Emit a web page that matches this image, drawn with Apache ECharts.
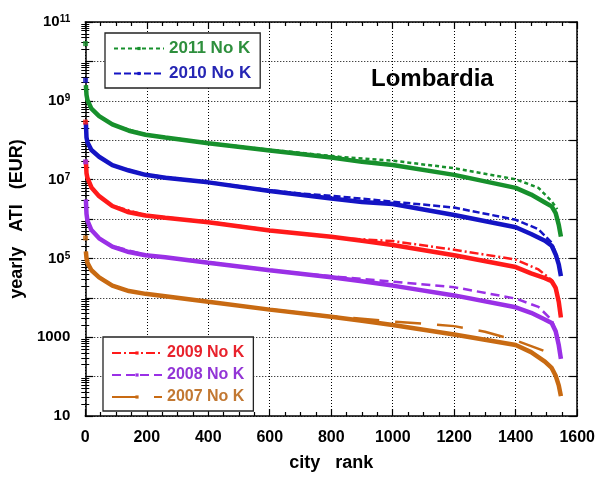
<!DOCTYPE html>
<html>
<head>
<meta charset="utf-8">
<script src="https://cdn.jsdelivr.net/npm/echarts@6/dist/echarts.min.js"></script>
<style>
html,body{margin:0;padding:0;background:#fff;}
#chart{width:598px;height:477px;}
</style>
</head>
<body>
<div id="chart"></div>
<script>
// ---- data ----
var title = 'Lombardia';
var xTicks = [0, 200, 400, 600, 800, 1000, 1200, 1400, 1600];

// ranks of the sampled points on the full (solid) curves
var rankFull = [2, 4, 7, 20, 45, 88, 142, 196, 260, 400, 600, 800, 900, 1000, 1200, 1400, 1450, 1495, 1517, 1530, 1540, 1547];
var full2011 = [2.51e9, 1.41e9, 1.05e9, 6.31e8, 4.07e8, 2.51e8, 1.74e8, 1.38e8, 1.17e8, 8.32e7, 5.50e7, 3.63e7, 2.82e7, 2.34e7, 1.32e7, 6.17e6, 4.17e6, 2.63e6, 2.09e6, 1.41e6, 7.08e5, 3.55e5];
var full2010 = [2.75e8, 1.17e8, 8.91e7, 5.62e7, 3.80e7, 2.34e7, 1.70e7, 1.32e7, 1.12e7, 8.51e6, 5.13e6, 3.31e6, 2.69e6, 2.40e6, 1.26e6, 6.17e5, 4.17e5, 2.82e5, 2.09e5, 1.26e5, 7.08e4, 3.55e4];
var full2009 = [3.16e7, 1.45e7, 1.10e7, 6.31e6, 3.80e6, 2.14e6, 1.48e6, 1.23e6, 1.07e6, 8.32e5, 5.13e5, 3.55e5, 2.82e5, 2.19e5, 1.20e5, 6.03e4, 4.17e4, 3.16e4, 2.63e4, 1.78e4, 7.94e3, 3.16e3];
var full2008 = [3.16e6, 1.35e6, 9.12e5, 5.25e5, 3.24e5, 2.00e5, 1.45e5, 1.20e5, 1.07e5, 7.76e4, 5.01e4, 3.31e4, 2.63e4, 2.04e4, 1.15e4, 5.75e3, 4.17e3, 2.82e3, 2.29e3, 1.41e3, 631, 282];
var full2007 = [1.51e5, 1.00e5, 7.76e4, 5.01e4, 3.31e4, 2.04e4, 1.48e4, 1.26e4, 1.10e4, 7.94e3, 5.01e3, 3.31e3, 2.63e3, 2.04e3, 1.17e3, 631, 417, 240, 166, 105, 60, 32];

// rank-1 (largest city) isolated points
var topRank = 1;
var top2011 = 2.82e10, top2010 = 3.31e9, top2009 = 2.88e8, top2008 = 2.82e7, top2007 = 3.31e5;

// "No K" curves
var rankNoK = [100, 200, 400, 600, 700, 827, 1000, 1200, 1400, 1474, 1517, 1535, 1545];
var noK2011 = [2.29e8, 1.38e8, 8.51e7, 5.75e7, 4.79e7, 3.80e7, 3.02e7, 1.95e7, 1.02e7, 6.17e6, 2.82e6, 1.78e6, null];
var noK2010 = [2.19e7, 1.32e7, 8.71e6, 5.37e6, 4.47e6, 3.72e6, 2.75e6, 1.95e6, 9.55e5, 5.50e5, 2.51e5, 1.12e5, null];
var noK2009 = [2.04e6, 1.23e6, 8.51e5, 5.25e5, 4.17e5, 3.31e5, 2.75e5, 1.66e5, 9.33e4, 5.25e4, 2.82e4, 1.26e4, 3.55e3];
var noK2008 = [1.95e5, 1.20e5, 7.94e4, 5.13e4, 4.17e4, 3.39e4, 2.57e4, 1.86e4, 9.55e3, 5.89e3, 2.75e3, 1.12e3, 398];
var rankNoK2007 = [600, 700, 790, 1000, 1200, 1300, 1400, 1490];
var noK2007 = [5.13e3, 4.17e3, 3.47e3, 2.51e3, 1.91e3, 1.38e3, 832, 457];

var years = ['2011', '2010', '2009', '2008', '2007'];
// ---- styles ----
var colors = {'2011': '#17902c', '2010': '#1414c4', '2009': '#ff1a1a', '2008': '#9a30e6', '2007': '#c86a12'};
var textColors = {'2011': '#2e8f3d', '2010': '#2626b4', '2009': '#e8222c', '2008': '#9235d6', '2007': '#c27832'};
var dashes = {'2011': [4, 3], '2010': [7, 3], '2009': [9, 3, 2, 3], '2008': [9, 5], '2007': [26, 16]};

var fullData = {'2011': full2011, '2010': full2010, '2009': full2009, '2008': full2008, '2007': full2007};
var topData = {'2011': top2011, '2010': top2010, '2009': top2009, '2008': top2008, '2007': top2007};
var noKData = {'2011': noK2011, '2010': noK2010, '2009': noK2009, '2008': noK2008, '2007': noK2007};
var noKRanks = {'2011': rankNoK, '2010': rankNoK, '2009': rankNoK, '2008': rankNoK, '2007': rankNoK2007};

function pairs(xs, ys) {
  var out = [];
  for (var i = 0; i < xs.length; i++) out.push([xs[i], ys[i]]);
  return out;
}

var series = [];
years.forEach(function (y) {
  series.push({
    name: y + ' No K', type: 'line', data: pairs(noKRanks[y], noKData[y]),
    symbol: 'rect', symbolSize: 3, showSymbol: false, connectNulls: false,
    lineStyle: {color: colors[y], width: 2.5, type: dashes[y]},
    itemStyle: {color: colors[y]}, z: 2, silent: true
  });
});
years.forEach(function (y) {
  series.push({
    name: y, type: 'line', data: pairs(rankFull, fullData[y]),
    symbol: 'none', lineStyle: {color: colors[y], width: 4.5},
    itemStyle: {color: colors[y]}, z: 3, silent: true
  });
  series.push({
    name: y + ' top', type: 'scatter', data: [[topRank, topData[y]]],
    symbol: 'rect', symbolSize: 5, itemStyle: {color: colors[y]}, z: 4, silent: true
  });
});

var minorVals = [];
for (var d = 1; d <= 10; d++) for (var k = 2; k <= 9; k++) minorVals.push(k * Math.pow(10, d));

var font = 'Liberation Sans, Arial, sans-serif';

function yLabel(v) {
  var e = Math.round(Math.log(v) / Math.LN10);
  if (e % 2 === 0) return '';
  if (e >= 5) return '{B|10}{s|' + e + '}';
  return '{b|' + Math.round(v) + '}';
}

var logBase = {type: 'log', logBase: 10, min: 10, max: 1e11, gridIndex: 0};
function yAx(extra) { return Object.assign({}, logBase, extra); }

function legendText(y, fs) { return {color: textColors[y], fontWeight: 'bold', fontSize: fs, fontFamily: font}; }

var option = {
  backgroundColor: '#fff',
  animation: false,
  title: {text: title, left: 371, top: 67, padding: 0,
    textStyle: {fontFamily: font, fontWeight: 'bold', fontSize: 24, color: '#000'}},
  grid: {left: 84, right: 19, top: 22, bottom: 52},
  legend: [
    {data: ['2011 No K', '2010 No K'], orient: 'vertical', left: 105, top: 33,
      padding: [7, 9, 6, 8], itemGap: 8, itemWidth: 50, itemHeight: 4,
      borderColor: '#222', borderWidth: 1.3, backgroundColor: '#fff',
      selectedMode: false,
      formatter: function (n) { return '{c' + n.slice(0, 4) + '|' + n + '}'; },
      textStyle: {fontFamily: font, fontWeight: 'bold', fontSize: 17,
        rich: {c2011: legendText('2011', 17), c2010: legendText('2010', 17)}}},
    {data: ['2009 No K', '2008 No K', '2007 No K'], orient: 'vertical', left: 103, top: 337,
      padding: [8, 9, 6, 8], itemGap: 6, itemWidth: 50, itemHeight: 4,
      borderColor: '#222', borderWidth: 1.3, backgroundColor: '#fff',
      selectedMode: false,
      formatter: function (n) { return '{c' + n.slice(0, 4) + '|' + n + '}'; },
      textStyle: {fontFamily: font, fontWeight: 'bold', fontSize: 16,
        rich: {c2009: legendText('2009', 16), c2008: legendText('2008', 16), c2007: legendText('2007', 16)}}}
  ],
  xAxis: [
    {type: 'value', min: 0, max: 1600, interval: 200, position: 'bottom',
      name: 'city   rank', nameLocation: 'middle', nameGap: 38,
      nameTextStyle: {fontFamily: font, fontWeight: 'bold', fontSize: 18, color: '#000'},
      axisLine: {onZero: false, lineStyle: {color: '#000', width: 1.5}},
      axisTick: {inside: true, length: 7, lineStyle: {color: '#000', width: 1.2}},
      minorTick: {show: true, splitNumber: 4, length: 4, lineStyle: {color: '#000', width: 1.2}},
      splitLine: {show: true, lineStyle: {color: '#000', width: 1, type: [1, 2]}},
      axisLabel: {fontFamily: font, fontWeight: 'bold', fontSize: 16, color: '#000', margin: 14,
        formatter: function (v) { return String(v); }}},
    {type: 'value', min: 0, max: 1600, interval: 200, position: 'top',
      axisLine: {onZero: false, lineStyle: {color: '#000', width: 1.5}},
      axisTick: {inside: true, length: 7, lineStyle: {color: '#000', width: 1.2}},
      minorTick: {show: true, splitNumber: 4, length: 4, lineStyle: {color: '#000', width: 1.2}},
      splitLine: {show: false}, axisLabel: {show: false}}
  ],
  yAxis: [
    yAx({position: 'left', splitNumber: 10, interval: 1,
      name: 'yearly   ATI   (EUR)', nameLocation: 'middle', nameGap: 47,
      nameTextStyle: {fontFamily: font, fontWeight: 'bold', fontSize: 18, color: '#000'},
      axisLine: {onZero: false, lineStyle: {color: '#000', width: 1.5}},
      axisTick: {inside: true, length: 8, lineStyle: {color: '#000', width: 1.2}},
      splitLine: {show: true, lineStyle: {color: '#000', width: 1, type: [1, 2]}},
      axisLabel: {formatter: yLabel, margin: 15, color: '#000',
        rich: {b: {fontFamily: font, fontWeight: 'bold', fontSize: 15, color: '#000'},
               B: {fontFamily: font, fontWeight: 'bold', fontSize: 15, color: '#000', lineHeight: 15, verticalAlign: 'top', padding: [0, 0, 6, 0]},
               s: {fontFamily: font, fontWeight: 'bold', fontSize: 10, color: '#000', lineHeight: 10, verticalAlign: 'top'}}}}),
    yAx({position: 'left', axisLine: {show: false},
      axisTick: {inside: true, length: 4, customValues: minorVals, lineStyle: {color: '#000', width: 1}},
      splitLine: {show: false}, axisLabel: {show: false}}),
    yAx({position: 'right', splitNumber: 10, interval: 1,
      axisLine: {onZero: false, lineStyle: {color: '#000', width: 1.5}},
      axisTick: {inside: true, length: 8, lineStyle: {color: '#000', width: 1.2}},
      splitLine: {show: false}, axisLabel: {show: false}}),
    yAx({position: 'right', axisLine: {show: false},
      axisTick: {inside: true, length: 4, customValues: minorVals, lineStyle: {color: '#000', width: 1}},
      splitLine: {show: false}, axisLabel: {show: false}})
  ],
  series: series
};

var chart = echarts.init(document.getElementById('chart'), null, {renderer: 'canvas'});
chart.setOption(option);
</script>
</body>
</html>
